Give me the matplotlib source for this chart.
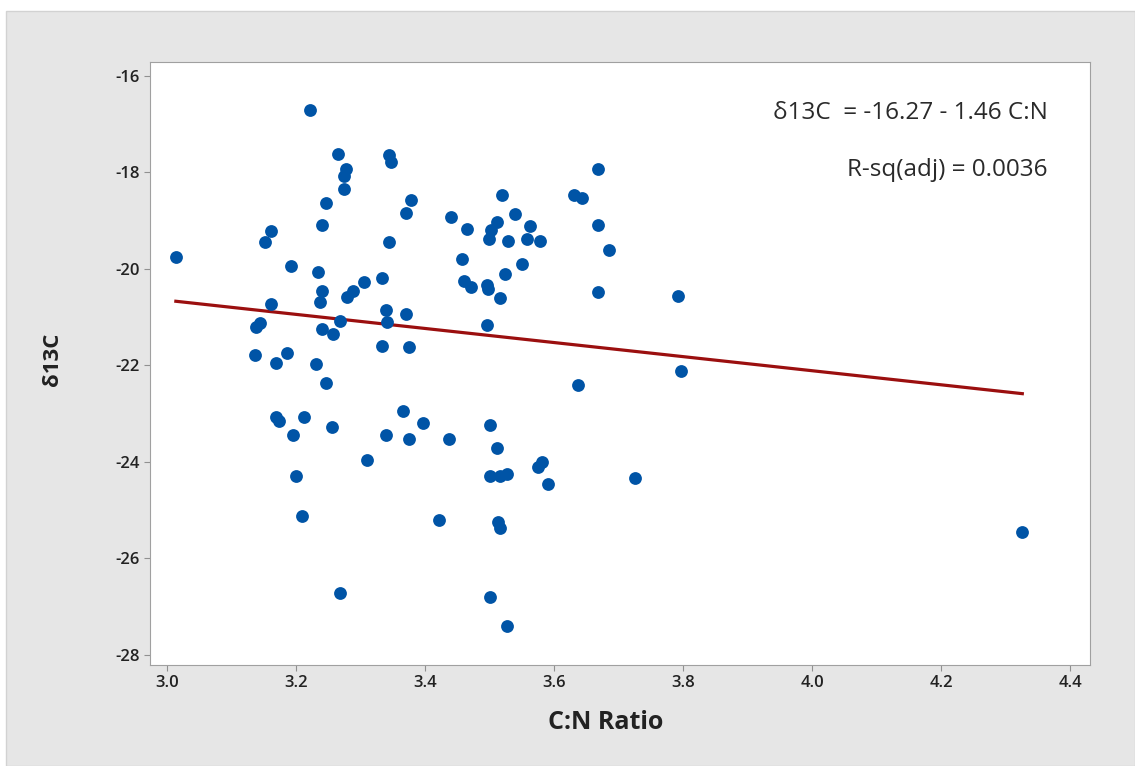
import numpy as np
import matplotlib.pyplot as plt
from matplotlib.patches import Rectangle

# C:N ratio vs d13C
cn = [3.014, 3.222, 3.265, 3.345, 3.348, 3.278, 3.274, 3.274, 3.379, 3.370,
      3.247, 3.440, 3.465, 3.161, 3.152, 3.240, 3.345, 3.192, 3.235, 3.458,
      3.460, 3.472, 3.240, 3.237, 3.306, 3.289, 3.280, 3.333, 3.161, 3.144,
      3.139, 3.268, 3.241, 3.257, 3.339, 3.342, 3.370, 3.333, 3.376, 3.136,
      3.186, 3.170, 3.232,
      3.247, 3.170, 3.174, 3.213, 3.256, 3.195, 3.366, 3.397, 3.339, 3.376,
      3.437, 3.311, 3.201, 3.210, 3.422, 3.268,
      3.668, 3.520, 3.631, 3.644, 3.539, 3.511, 3.503, 3.500, 3.563, 3.559,
      3.578, 3.529, 3.668, 3.686, 3.551, 3.524, 3.496, 3.498, 3.516, 3.668,
      3.793, 3.496,
      3.637, 3.797, 3.501, 3.511, 3.501, 3.516, 3.528, 3.576, 3.582, 3.591,
      3.726, 3.514, 3.517, 3.501, 3.527, 4.326]
d13c = [-19.75, -16.70, -17.61, -17.64, -17.78, -17.93, -18.07, -18.35, -18.58, -18.85,
        -18.64, -18.92, -19.17, -19.21, -19.45, -19.08, -19.45, -19.94, -20.07, -19.79,
        -20.26, -20.37, -20.46, -20.69, -20.28, -20.46, -20.59, -20.19, -20.73, -21.13,
        -21.20, -21.09, -21.25, -21.35, -20.86, -21.10, -20.93, -21.59, -21.62, -21.79,
        -21.75, -21.95, -21.98,
        -22.37, -23.06, -23.15, -23.07, -23.27, -23.44, -22.94, -23.19, -23.44, -23.52,
        -23.52, -23.97, -24.30, -25.12, -25.20, -26.72,
        -17.93, -18.46, -18.47, -18.52, -18.87, -19.03, -19.19, -19.38, -19.10, -19.38,
        -19.42, -19.42, -19.08, -19.61, -19.90, -20.11, -20.33, -20.42, -20.60, -20.48,
        -20.56, -21.17,
        -22.41, -22.12, -23.23, -23.72, -24.29, -24.30, -24.26, -24.10, -24.01, -24.46,
        -24.34, -25.24, -25.38, -26.80, -27.41, -25.45]

# fitted line from the chart
intercept = -16.27
slope = -1.46
xticks = [3.0, 3.2, 3.4, 3.6, 3.8, 4.0, 4.2, 4.4]
yticks = [-16, -18, -20, -22, -24, -26, -28]

plt.rcParams['font.family'] = ['Open Sans', 'DejaVu Sans']
plt.rcParams['axes.unicode_minus'] = False

fig = plt.figure(figsize=(11.35, 7.66), dpi=100, facecolor='white')
# gray panel behind the chart (white strip at top and left like the screenshot)
fig.patches.append(Rectangle((6 / 1135, 0), 1 - 6 / 1135, 1 - 11 / 766,
                             transform=fig.transFigure, facecolor='#e6e6e6',
                             edgecolor='#d2d2d2', linewidth=1, zorder=-5))
ax = fig.add_axes([0.1322, 0.1319, 0.8282, 0.7872])
ax.set_zorder(2)

ax.scatter(cn, d13c, s=85, color='#0054a6', zorder=3, linewidths=0)

xl = np.array([min(cn), max(cn)])
ax.plot(xl, intercept + slope * xl, color='#9b0f0f', linewidth=2.3, zorder=2)

ax.set_xlim(2.974, 4.431)
ax.set_ylim(-28.21, -15.71)
ax.set_xticks(xticks)
ax.set_xticklabels([f'{t:.1f}' for t in xticks])
ax.set_yticks(yticks)
ax.tick_params(direction='out', length=4, color='#909090', labelsize=12,
               labelcolor='#222222')
for lbl in ax.get_xticklabels() + ax.get_yticklabels():
    lbl.set_fontweight('semibold')
for sp in ax.spines.values():
    sp.set_color('#a0a0a0')

ax.set_xlabel('C:N Ratio', fontsize=18, fontweight='bold', color='#222222', va='center')
ax.xaxis.set_label_coords(0.485, -0.095)
ax.set_ylabel('δ13C', fontsize=16, fontweight='bold', color='#222222', va='center')
ax.yaxis.set_label_coords(-0.104, 0.507)

ax.text(0.955, 0.915, 'δ13C  = -16.27 - 1.46 C:N', transform=ax.transAxes,
        ha='right', va='center', fontsize=17.5, color='#2a2a2a')
ax.text(0.955, 0.821, 'R-sq(adj) = 0.0036', transform=ax.transAxes,
        ha='right', va='center', fontsize=17.5, color='#2a2a2a')

plt.savefig('out.png', dpi=100, facecolor=fig.get_facecolor())
